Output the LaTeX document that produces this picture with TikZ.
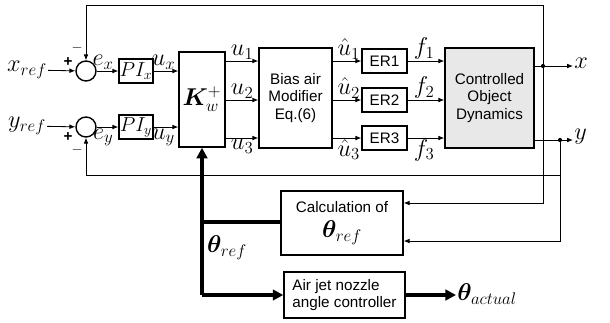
\documentclass[tikz,border=0pt]{standalone}
\usepackage{amsmath,bm}
\usepackage{fontspec}
\setmainfont{Liberation Sans}
\usetikzlibrary{arrows.meta}

\begin{document}
\begin{tikzpicture}[
    x=0.03cm, y=-0.03cm,
    % --- Styles ---
    block/.style={draw, line width=1.2pt, inner sep=0pt, align=center,
                  font=\fontsize{13}{15}\selectfont},
    % Summing junction
    sum node/.style={circle, draw, line width=1.2pt, minimum size=0.6cm, inner sep=0pt},
    sig line/.style={draw, line width=0.7pt, -{Latex[length=5pt,width=4pt]}},
    % Thick lines for the nozzle angle path
    heavy line/.style={draw, line width=2.6pt, -{Triangle[length=9pt,width=9pt]}},
    lbl/.style={font=\fontsize{20}{22}\selectfont, inner sep=1pt},
    sign/.style={font=\bfseries\fontsize{13}{14}\selectfont, inner sep=0pt}
]
\useasboundingbox (0,0) rectangle (610,322);

%================CONFIGURATION================
% \rowh: height of the small blocks (cm), \erx: centre of the ER column
\def\rowh{0.72}
\def\erx{384.5}
%=============================================

% --- 1. Error junctions and PI controllers ---
\node[sum node] (sumx) at (86,71) {};
\node[sum node] (sumy) at (86,127) {};
\node[lbl] (xref) at (27,70) {$x_{ref}$};
\node[lbl] (yref) at (27,126) {$y_{ref}$};
\draw[sig line] (xref) -- (sumx);
\draw[sig line] (yref) -- (sumy);
\node[sign] (px) at (68,62) {+};
\node[sign] (mx) at (77,48) {$-$};
\node[sign] (py) at (68,137) {+};
\node[sign] (my) at (77,150) {$-$};

\node[block, font=\fontsize{18}{20}\selectfont, minimum width=1.02cm, minimum height=\rowh cm] (pix) at (136,71) {$PI_x$};
\node[block, font=\fontsize{18}{20}\selectfont, minimum width=1.02cm, minimum height=\rowh cm] (piy) at (136,127) {$PI_y$};
\draw[sig line] (sumx) -- node[lbl, above, pos=0.3] (ex) {$e_x$} (pix);
\draw[sig line] (sumy) -- node[lbl, below, pos=0.3] (ey) {$e_y$} (piy);

% --- 2. Allocation, bias modifier and ER blocks ---
\node[block, font=\fontsize{20}{22}\selectfont, minimum width=1.38cm, minimum height=2.85cm] (kw) at (202,99.5) {$\bm{K}_w^{+}$};
\draw[sig line] (pix) -- node[lbl, above, pos=0.4] (ux) {$u_x$} (kw.west |- pix);
\draw[sig line] (piy) -- node[lbl, below, pos=0.4] (uy) {$u_y$} (kw.west |- piy);

\node[block, minimum width=2.19cm, minimum height=3.0cm] (bias) at (295.5,98) {Bias air\\Modifier\\Eq.(6)};
\node[block, fill=gray!18, minimum width=2.67cm, minimum height=3.0cm] (cod) at (489.5,98) {Controlled\\Object\\Dynamics};

\foreach \i/\y/\la/\ra in {1/61/south east/south west, 2/100/south east/south west, 3/138/north east/north west} {
    \node[block, minimum width=1.35cm, minimum height=\rowh cm] (er\i) at (\erx,\y) {ER\i};
    \draw[sig line] (kw.east |- er\i) -- (bias.west |- er\i);
    \draw[sig line] (bias.east |- er\i) -- (er\i);
    \draw[sig line] (er\i) -- (cod.west |- er\i);
    \node[lbl, anchor=\la, xshift=-3pt] (u\i) at (bias.west |- er\i) {$u_{\i}$};
    \node[lbl, anchor=\ra, xshift=3pt] (uh\i) at (bias.east |- er\i) {$\hat{u}_{\i}$};
    \node[lbl, anchor=\ra, xshift=4pt] (f\i) at (er\i.east) {$f_{\i}$};
}

% --- 3. Outputs and feedback ---
\coordinate (xdot) at (543,66);
\coordinate (ydot) at (560,140);
\node[lbl, font=\fontsize{22}{24}\selectfont, anchor=west] (xout) at (573,63) {$x$};
\node[lbl, font=\fontsize{22}{24}\selectfont, anchor=west] (yout) at (573,137) {$y$};
\draw[sig line] (cod.east |- xdot) -- (xout.west |- xdot);
\draw[sig line] (cod.east |- ydot) -- (yout.west |- ydot);
\fill (xdot) circle (1.8pt);
\fill (ydot) circle (1.8pt);

\draw[sig line] (xdot) -- ++(0,-61) -| (sumx.north);
\draw[sig line] (ydot) ++(0,35) -| (sumy.south);

\node[block, minimum width=3.66cm, minimum height=1.92cm] (calc) at (342,223)
    {Calculation of\\[6pt]{\fontsize{22}{24}\selectfont$\bm{\theta}_{ref}$}};
\node[block, align=left, minimum width=3.63cm, minimum height=1.38cm] (nozzle) at (344.5,295)
    {Air jet nozzle\\angle controller};
\draw[sig line] (xdot) |- ([yshift=0.6cm]calc.east);
\draw[sig line] (ydot) |- ([yshift=-0.54cm]calc.east);

% --- 4. Nozzle angle path ---
\coordinate (tjoin) at (202,222);
\draw[heavy line] (tjoin |- nozzle) -- (kw.south);
\draw[line width=2.6pt] (tjoin) -- (calc.west |- tjoin);
\draw[heavy line] (tjoin |- nozzle) -- (nozzle.west);
\node[lbl] (thref) at (227,248) {$\bm{\theta}_{ref}$};
\node[lbl, font=\fontsize{22}{24}\selectfont, anchor=west] (thact) at (456,294) {$\bm{\theta}_{actual}$};
\draw[heavy line] (nozzle.east) -- (thact.west |- nozzle);

\end{tikzpicture}
\end{document}
